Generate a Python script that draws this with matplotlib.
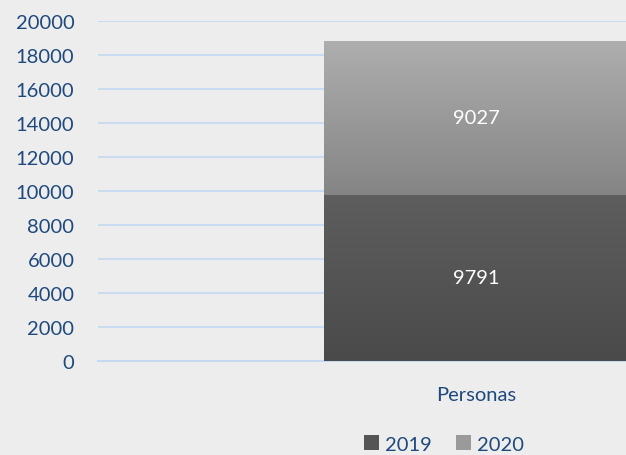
import numpy as np
import matplotlib
matplotlib.use("Agg")
import matplotlib.pyplot as plt
from matplotlib.patches import Patch
from matplotlib.colors import LinearSegmentedColormap

categories = ["Personas"]
series_names = ["2019", "2020"]
values_2019 = [9791]
values_2020 = [9027]
yticks = [0, 2000, 4000, 6000, 8000, 10000, 12000, 14000, 16000, 18000, 20000]

plt.rcParams['font.family'] = ['Lato', 'DejaVu Sans']
text_color = "#1f497d"
bg = "#ededed"

fig = plt.figure(figsize=(6.26, 4.56), dpi=100, facecolor=bg)
ax = fig.add_axes([98/626, 94/456, 756/626, 340/456])
ax.set_facecolor(bg)

x = np.arange(len(categories))
w = 0.402
b1 = ax.bar(x, values_2019, w, color="#555555", zorder=2)
b2 = ax.bar(x, values_2020, w, bottom=values_2019, color="#9a9a9a", zorder=2)

grads = [("#4a4a4a", "#5e5e5e"), ("#858585", "#aeaeae")]
for bars, (c0, c1) in zip([b1, b2], grads):
    cmap = LinearSegmentedColormap.from_list("g", [c0, c1])
    for p in bars:
        x0, y0 = p.get_x(), p.get_y()
        x1, y1 = x0 + p.get_width(), y0 + p.get_height()
        grad = np.linspace(0, 1, 256).reshape(-1, 1)
        im = ax.imshow(grad, cmap=cmap, origin="lower", aspect="auto",
                       extent=[x0, x1, y0, y1], zorder=3)
        im.set_clip_path(p)

for bars, vals in zip([b1, b2], [values_2019, values_2020]):
    ax.bar_label(bars, labels=[str(v) for v in vals], label_type="center",
                 color="white", fontsize=14.5, zorder=5)
for t in ax.texts:
    t.set_zorder(6)

ax.set_xlim(-0.5, 0.5)
ax.set_ylim(0, 20000)
ax.set_yticks(yticks)
ax.set_yticklabels([str(v) for v in yticks])
ax.set_xticks(x)
ax.set_xticklabels(categories)
ax.tick_params(axis="both", length=0, colors=text_color, labelsize=14.5)
ax.tick_params(axis="y", pad=17)
ax.tick_params(axis="x", pad=18)
ax.grid(axis="y", color="#cadcf2", linewidth=1.4, zorder=0)
ax.set_axisbelow(True)
for s in ["top", "right", "left"]:
    ax.spines[s].set_visible(False)
ax.spines["bottom"].set_color("#c6d9f1")
ax.spines["bottom"].set_linewidth(1.5)
ax.set_xlim(-0.5, 0.5)

handles = [Patch(facecolor="#555555", label=series_names[0]),
           Patch(facecolor="#9a9a9a", label=series_names[1])]
leg = fig.legend(handles=handles, loc="center", bbox_to_anchor=(444/626, 11/456),
                 ncol=2, frameon=False, fontsize=14.5, handlelength=0.75,
                 handleheight=0.75, handletextpad=0.3, columnspacing=1.2,
                 borderpad=0)
for t in leg.get_texts():
    t.set_color(text_color)

fig.savefig("out.png", dpi=100, facecolor=bg)
